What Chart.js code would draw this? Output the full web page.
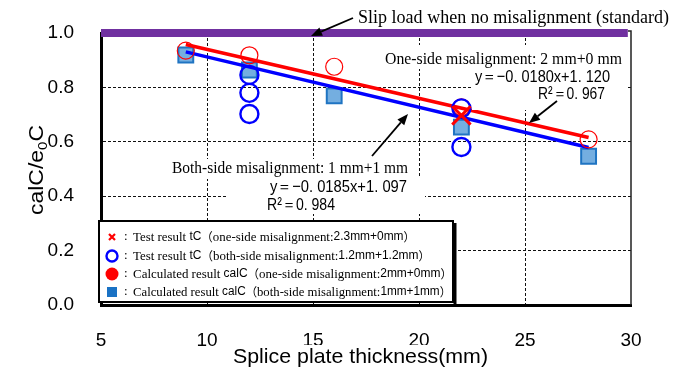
<!DOCTYPE html>
<html>
<head>
<meta charset="utf-8">
<script src="https://cdn.jsdelivr.net/npm/chart.js@4.4.1/dist/chart.umd.min.js"></script>
<style>
  html, body { margin: 0; padding: 0; background: #fff; }
  #wrap { width: 683px; height: 373px; position: relative; }
</style>
</head>
<body>
<div id="wrap"><canvas id="c" width="683" height="373"></canvas></div>
<script>
// ---- data ----
const thicknessCalc = [9, 12, 16, 22, 28];                  // splice plate thickness (mm)
const calcOneSide   = [0.935, 0.918, 0.876, 0.727, 0.609];  // calC, one-side 2mm+0mm
const calcBothSide  = [0.919, 0.864, 0.769, 0.654, 0.547];  // calC, both-side 1mm+1mm
const testBothX     = [12, 12, 12, 22, 22];                 // tC, both-side 1.2mm+1.2mm
const testBothY     = [0.846, 0.780, 0.702, 0.723, 0.581];
const testOneX      = [22];                                 // tC, one-side 2.3mm+0mm
const testOneY      = [0.697];
const fitSlopes     = [-0.0180, -0.0185];                   // [one-side, both-side]
const fitIntercepts = [1.120, 1.097];
const fitR2         = [0.967, 0.984];
const fitRange      = [9, 28];
const standardLevel = 1.0;
const xTicks = [5, 10, 15, 20, 25, 30];
const yTicks = [0, 0.2, 0.4, 0.6, 0.8, 1.0];

const SERIF = '"Liberation Serif", "Times New Roman", serif';
const SANS  = '"Liberation Sans", Arial, sans-serif';
const CJK   = '"Noto Sans CJK JP", sans-serif';

const legendRows = [
  [['Test result ', SERIF, 13.5], ['tC', SANS, 12.5], ['（', CJK, 12], ['one-side misalignment:', SERIF, 13.5], ['2.3mm+0mm', SANS, 12.5], ['）', CJK, 12]],
  [['Test result ', SERIF, 13.5], ['tC', SANS, 12.5], ['（', CJK, 12], ['both-side misalignment:', SERIF, 13.5], ['1.2mm+1.2mm', SANS, 12.5], ['）', CJK, 12]],
  [['Calculated result ', SERIF, 13.5], ['calC', SANS, 12.5], ['（', CJK, 12], ['one-side misalignment:', SERIF, 13.5], ['2mm+0mm', SANS, 12.5], ['）', CJK, 12]],
  [['Calculated result ', SERIF, 13.5], ['calC', SANS, 12.5], ['（', CJK, 12], ['both-side misalignment:', SERIF, 13.5], ['1mm+1mm', SANS, 12.5], ['）', CJK, 12]]
];
const legendWidths = [282, 297, 319, 318];

const RED = '#ff0000', BLUE = '#0000ff', PURPLE = '#7030a0';
const SQ_FILL = '#74aee0', SQ_EDGE = '#1f74c2';

// ---- helpers ----
const pts = (xs, ys) => xs.map((x, i) => ({ x: x, y: ys[i] }));
const fitLine = k => fitRange.map(x => ({ x: x, y: fitSlopes[k] * x + fitIntercepts[k] }));
const spaced = v => v.toFixed(4).replace('-', '−').replace('.', '. ');
const eqText = k => 'y＝' + spaced(fitSlopes[k]) + 'x+' + fitIntercepts[k].toFixed(3).replace('.', '. ');
const r2Text = k => 'R²＝' + fitR2[k].toFixed(3).replace('.', '. ');

function fitText(ctx, text, x, y, width, font) {
  ctx.save();
  ctx.font = font;
  const w = ctx.measureText(text).width;
  ctx.translate(x, y);
  ctx.scale(width / w, 1);
  ctx.fillText(text, 0, 0);
  ctx.restore();
}
function segText(ctx, segs, x, y, width) {
  let total = 0;
  segs.forEach(s => { ctx.font = s[2] + 'px ' + s[1]; total += ctx.measureText(s[0]).width; });
  ctx.save();
  ctx.translate(x, y);
  ctx.scale(width / total, 1);
  let cx = 0;
  segs.forEach(s => { ctx.font = s[2] + 'px ' + s[1]; ctx.fillText(s[0], cx, 0); cx += ctx.measureText(s[0]).width; });
  ctx.restore();
}
function arrow(ctx, x1, y1, x2, y2) {
  const a = Math.atan2(y2 - y1, x2 - x1), L = 11, H = 4.5;
  const bx = x2 - L * Math.cos(a), by = y2 - L * Math.sin(a);
  ctx.save();
  ctx.strokeStyle = '#000'; ctx.fillStyle = '#000'; ctx.lineWidth = 1.8;
  ctx.beginPath(); ctx.moveTo(x1, y1); ctx.lineTo(bx, by); ctx.stroke();
  ctx.beginPath();
  ctx.moveTo(x2, y2);
  ctx.lineTo(bx + H * Math.sin(a), by - H * Math.cos(a));
  ctx.lineTo(bx - H * Math.sin(a), by + H * Math.cos(a));
  ctx.closePath(); ctx.fill();
  ctx.restore();
}
function whiteBox(ctx, x, y, w, h) { ctx.save(); ctx.fillStyle = '#fff'; ctx.fillRect(x, y, w, h); ctx.restore(); }

// annotations, legend box and axis titles
const overlay = {
  id: 'overlay',
  afterDraw(chart) {
    const ctx = chart.ctx, area = chart.chartArea;
    ctx.save();
    ctx.fillStyle = '#000';
    ctx.textBaseline = 'middle';

    // right frame line
    ctx.strokeStyle = '#222'; ctx.lineWidth = 1.5;
    ctx.beginPath(); ctx.moveTo(area.right - 3, area.top - 2); ctx.lineTo(area.right, area.top - 2); ctx.lineTo(area.right, area.bottom); ctx.stroke();

    // top annotation
    fitText(ctx, 'Slip load when no misalignment (standard)', 358, 18, 311, '19px ' + SERIF);
    arrow(ctx, 353, 18, 311, 36);

    // one-side fit annotation
    whiteBox(ctx, 383, 45, 242, 24);
    whiteBox(ctx, 472, 68, 156, 42);
    fitText(ctx, 'One-side misalignment: 2 mm+0 mm', 385, 60, 237, '17px ' + SERIF);
    fitText(ctx, eqText(0), 475, 77, 135, '17px ' + SANS);
    fitText(ctx, r2Text(0), 538, 94, 67, '17px ' + SANS);
    arrow(ctx, 557, 101, 529, 123);

    // both-side fit annotation
    whiteBox(ctx, 170, 159, 240, 20);
    whiteBox(ctx, 228, 178, 197, 36);
    fitText(ctx, 'Both-side misalignment: 1 mm+1 mm', 172, 169, 236, '17px ' + SERIF);
    fitText(ctx, eqText(1), 270, 187, 137, '17px ' + SANS);
    fitText(ctx, r2Text(1), 267, 205, 68, '17px ' + SANS);
    arrow(ctx, 372, 156, 408, 114);

    // legend box
    ctx.fillStyle = '#fff';
    ctx.fillRect(99, 221, 355, 82);
    ctx.strokeStyle = '#000'; ctx.lineWidth = 2;
    ctx.strokeRect(99, 221, 354, 81);
    ctx.lineWidth = 3;
    ctx.beginPath(); ctx.moveTo(455, 223); ctx.lineTo(455, 304); ctx.stroke();

    const rowsY = [237, 256, 274, 292];
    // markers
    ctx.strokeStyle = RED; ctx.lineWidth = 2.2;
    ctx.beginPath(); ctx.moveTo(109, 234); ctx.lineTo(115, 240); ctx.moveTo(115, 234); ctx.lineTo(109, 240); ctx.stroke();
    ctx.strokeStyle = BLUE; ctx.lineWidth = 2.4;
    ctx.beginPath(); ctx.arc(112, 256, 5.5, 0, Math.PI * 2); ctx.stroke();
    ctx.fillStyle = RED;
    ctx.beginPath(); ctx.arc(112, 274, 6.5, 0, Math.PI * 2); ctx.fill();
    ctx.fillStyle = '#1a72c4';
    ctx.fillRect(107, 287, 10, 10);

    ctx.fillStyle = '#000';
    rowsY.forEach((y, i) => {
      ctx.font = '13px ' + SERIF;
      ctx.fillText(':', 124, y);
      segText(ctx, legendRows[i], 133, y, legendWidths[i]);
    });

    // x axis title
    whiteBox(ctx, 228, 345, 264, 28);
    ctx.fillStyle = '#000';
    fitText(ctx, 'Splice plate thickness(mm)', 233, 357, 255, '21px ' + SANS);

    // y axis title: calC/e0C
    ctx.save();
    ctx.translate(43, 215);
    ctx.rotate(-Math.PI / 2);
    ctx.textBaseline = 'alphabetic';
    const parts = [['calC/e', 20, 0], ['0', 13, 4], ['C', 20, 0]];
    let tot = 0;
    parts.forEach(p => { ctx.font = p[1] + 'px ' + SANS; tot += ctx.measureText(p[0]).width; });
    ctx.scale(90 / tot, 1);
    let cx = 0;
    parts.forEach(p => { ctx.font = p[1] + 'px ' + SANS; ctx.fillText(p[0], cx, p[2]); cx += ctx.measureText(p[0]).width; });
    ctx.restore();

    ctx.restore();
  }
};

new Chart(document.getElementById('c'), {
  type: 'scatter',
  data: {
    datasets: [
      { label: 'tC one-side', data: pts(testOneX, testOneY), pointStyle: 'crossRot', pointRadius: 13,
        borderColor: RED, borderWidth: 3, backgroundColor: RED, order: 1 },
      { label: 'tC both-side', data: pts(testBothX, testBothY), pointStyle: 'circle', pointRadius: 9,
        borderColor: BLUE, borderWidth: 2.4, backgroundColor: 'rgba(0,0,0,0)', order: 2 },
      { label: 'calC one-side', data: pts(thicknessCalc, calcOneSide), pointStyle: 'circle', pointRadius: 8.5,
        borderColor: RED, borderWidth: 1.2, backgroundColor: 'rgba(0,0,0,0)', order: 3 },
      { label: 'fit one-side', type: 'line', data: fitLine(0), borderColor: RED, borderWidth: 3.5,
        pointRadius: 0, fill: false, order: 4 },
      { label: 'fit both-side', type: 'line', data: fitLine(1), borderColor: BLUE, borderWidth: 3.5,
        pointRadius: 0, fill: false, order: 5 },
      { label: 'calC both-side', data: pts(thicknessCalc, calcBothSide), pointStyle: 'rect', pointRadius: 10.5,
        borderColor: SQ_EDGE, borderWidth: 2, backgroundColor: SQ_FILL, order: 6 },
      { label: 'standard', type: 'line', data: [{ x: xTicks[0], y: standardLevel }, { x: 29.85, y: standardLevel }],
        borderColor: PURPLE, borderWidth: 8, pointRadius: 0, fill: false, clip: false, order: 7 }
    ]
  },
  options: {
    responsive: false,
    animation: false,
    devicePixelRatio: 1,
    layout: { padding: { left: 0, right: 52, top: 33, bottom: 0 } },
    plugins: { legend: { display: false }, tooltip: { enabled: false } },
    scales: {
      x: {
        type: 'linear', min: xTicks[0], max: xTicks[xTicks.length - 1],
        afterBuildTicks: s => { s.ticks = xTicks.map(v => ({ value: v })); },
        afterFit: s => { s.height = 68; },
        grid: {
          drawTicks: false, lineWidth: 1,
          color: c => (c.tick && (c.tick.value === xTicks[0] || c.tick.value === xTicks[xTicks.length - 1])) ? 'rgba(0,0,0,0)' : '#111'
        },
        border: { display: true, color: '#000', width: 3, dash: [3, 2] },
        ticks: { padding: 24, color: '#000', font: { family: 'Liberation Sans', size: 19 }, maxRotation: 0, autoSkip: false }
      },
      y: {
        min: 0, max: 1,
        afterBuildTicks: s => { s.ticks = yTicks.map(v => ({ value: v })); },
        afterFit: s => { s.width = 101; s.paddingTop = 0; s.paddingBottom = 0; },
        grid: {
          drawTicks: false, lineWidth: 1,
          color: c => (c.tick && (c.tick.value === 0 || c.tick.value === 1)) ? 'rgba(0,0,0,0)' : '#111'
        },
        border: { display: true, color: '#000', width: 3, dash: [3, 2] },
        ticks: { padding: 27, color: '#000', font: { family: 'Liberation Sans', size: 19 }, callback: v => Number(v).toFixed(1) }
      }
    }
  },
  plugins: [overlay]
});
</script>
</body>
</html>
